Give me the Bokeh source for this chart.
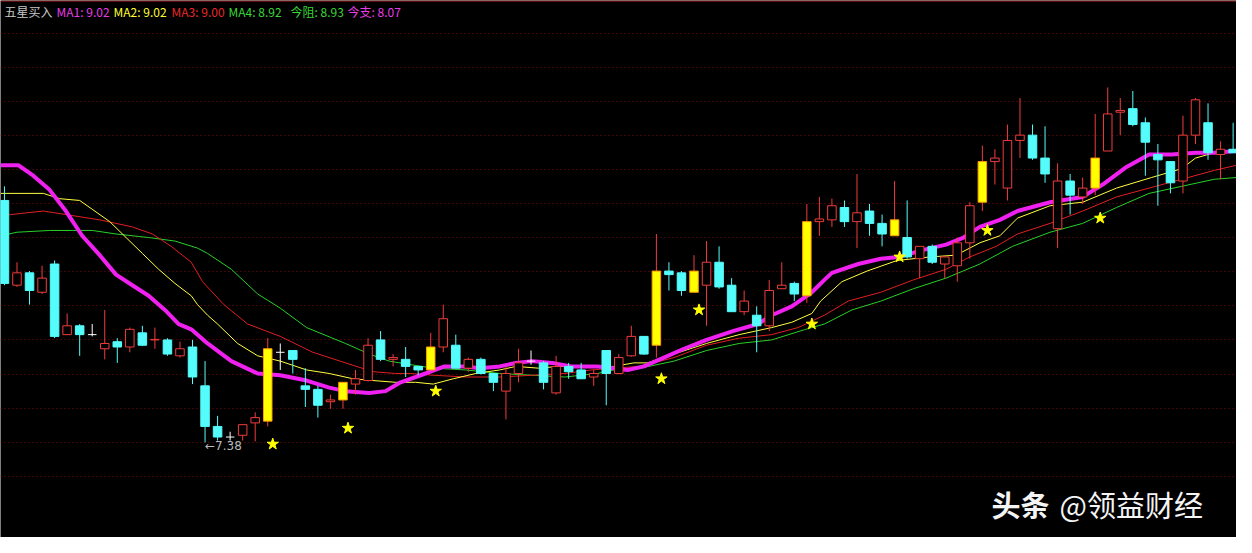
from bokeh.plotting import figure
from bokeh.models import Range1d, FixedTicker, Label, Span
from bokeh.embed import file_html
from bokeh.resources import INLINE

# ---------------- data ----------------
opens = [8.75, 8.27, 8.34, 8.23, 8.39, 7.99, 8.04, 7.99, 7.91, 7.95,
         7.92, 8.00, 7.96, 7.96, 7.87, 7.92, 7.70, 7.47, 7.41, 7.42,
         7.49, 7.50, 7.89, 7.90, 7.70, 7.68, 7.61, 7.62, 7.71, 7.73,
         7.96, 7.85, 7.85, 7.81, 7.79, 7.92, 7.93, 7.80, 7.85, 7.77,
         7.67, 7.77, 7.84, 7.83, 7.66, 7.81, 7.79, 7.75, 7.90, 7.77,
         7.87, 7.98, 7.93, 8.35, 8.34, 8.23, 8.27, 8.40, 8.27, 8.12,
         8.10, 8.04, 8.25, 8.28, 8.21, 8.63, 8.64, 8.71, 8.63, 8.69,
         8.62, 8.55, 8.54, 8.42, 8.49, 8.39, 8.38, 8.51, 8.74, 8.97,
         8.82, 9.09, 9.12, 8.99, 8.59, 8.86, 8.77, 8.82, 9.03, 9.25,
         9.27, 9.19, 9.01, 8.97, 8.86, 9.12, 9.19, 9.01, 9.04]
highs = [8.83, 8.40, 8.35, 8.38, 8.41, 8.11, 8.05, 8.05, 8.13, 7.97,
         8.03, 8.04, 8.03, 7.97, 7.95, 7.96, 7.84, 7.53, 7.44, 7.48,
         7.55, 7.97, 7.94, 7.90, 7.80, 7.70, 7.65, 7.72, 7.79, 7.97,
         8.01, 7.88, 7.92, 7.81, 8.00, 8.16, 7.99, 7.86, 7.86, 7.77,
         7.81, 7.91, 7.90, 7.84, 7.87, 7.83, 7.83, 7.79, 7.90, 7.88,
         8.04, 7.98, 8.56, 8.40, 8.35, 8.44, 8.52, 8.49, 8.31, 8.24,
         8.15, 8.30, 8.40, 8.29, 8.73, 8.77, 8.76, 8.75, 8.90, 8.73,
         8.67, 8.86, 8.75, 8.49, 8.50, 8.43, 8.54, 8.74, 9.06, 9.04,
         9.18, 9.33, 9.18, 9.17, 8.96, 8.90, 8.88, 9.24, 9.39, 9.33,
         9.37, 9.22, 9.07, 8.97, 9.23, 9.33, 9.30, 9.085, 9.19]
lows = [8.27, 8.26, 8.16, 8.22, 7.97, 7.99, 7.87, 7.98, 7.85, 7.83,
        7.89, 7.925, 7.91, 7.87, 7.86, 7.71, 7.38, 7.39, 7.39, 7.39,
        7.385, 7.47, 7.79, 7.77, 7.58, 7.52, 7.57, 7.57, 7.65, 7.725,
        7.84, 7.81, 7.75, 7.76, 7.79, 7.89, 7.80, 7.78, 7.765, 7.67,
        7.51, 7.72, 7.82, 7.68, 7.65, 7.74, 7.74, 7.70, 7.59, 7.765,
        7.865, 7.875, 7.86, 8.24, 8.21, 8.23, 8.04, 8.25, 8.12, 8.10,
        7.89, 8.01, 8.25, 8.18, 8.17, 8.55, 8.60, 8.60, 8.48, 8.55,
        8.49, 8.55, 8.42, 8.31, 8.39, 8.31, 8.29, 8.42, 8.69, 8.84,
        8.75, 8.99, 8.98, 8.85, 8.48, 8.67, 8.73, 8.78, 9.03, 9.12,
        9.17, 8.89, 8.72, 8.79, 8.79, 9.07, 8.98, 8.87, 9.02]
closes = [8.28, 8.34, 8.24, 8.31, 7.98, 8.04, 7.99, 7.99, 7.94, 7.92,
          8.02, 7.93, 7.963, 7.88, 7.91, 7.75, 7.47, 7.41, 7.41, 7.48,
          7.52, 7.91, 7.89, 7.85, 7.68, 7.59, 7.62, 7.72, 7.74, 7.93,
          7.85, 7.86, 7.81, 7.79, 7.92, 8.08, 7.80, 7.85, 7.77, 7.72,
          7.77, 7.83, 7.84, 7.72, 7.81, 7.78, 7.74, 7.77, 7.77, 7.86,
          7.98, 7.88, 8.35, 8.33, 8.24, 8.35, 8.40, 8.26, 8.12, 8.18,
          8.04, 8.24, 8.27, 8.22, 8.63, 8.645, 8.72, 8.63, 8.68, 8.62,
          8.56, 8.64, 8.43, 8.49, 8.40, 8.43, 8.51, 8.72, 8.97, 8.99,
          9.09, 9.12, 8.99, 8.90, 8.86, 8.78, 8.82, 8.99, 9.24, 9.26,
          9.18, 9.08, 8.98, 8.85, 9.12, 9.32, 9.02, 9.04, 9.02]

# "five star buy" signal bars and the star marks below them
signal_idx = [21, 27, 34, 52, 55, 64, 71, 78, 87]
star_price = [7.37, 7.46, 7.67, 7.74, 8.13, 8.05, 8.43, 8.58, 8.65]

# moving-average lines (bar position, price)
ma1_x = [-0.3, 1.1, 2.3, 3.6, 4.9, 6.2, 7.6, 8.9, 10.2, 11.5, 12.8, 13.9, 14.9, 16.2, 18.1, 20.2,
         22.0, 24.1, 25.9, 27.2, 29.1, 30.4, 31.6, 33.2, 35.1, 36.8, 37.9, 39.5, 40.8, 42.1, 43.7,
         45.2, 47.3, 48.6, 49.7, 51.0, 52.6, 54.2, 56.0, 58.1, 60.1, 61.2, 62.8, 64.4, 65.4, 66.0,
         68.1, 69.9, 71.3, 73.3, 75.1, 76.5, 77.8, 79.4, 80.8, 83.4, 86.0, 87.6, 89.5, 91.3, 93.1,
         95.0, 96.5, 98.3]
ma1_y = [8.95, 8.95, 8.89, 8.81, 8.69, 8.55, 8.44, 8.33, 8.27, 8.21, 8.13, 8.05, 8.02, 7.94, 7.84, 7.77,
         7.76, 7.73, 7.69, 7.67, 7.66, 7.67, 7.72, 7.76, 7.81, 7.81, 7.80, 7.81, 7.83, 7.84, 7.83,
         7.81, 7.81, 7.80, 7.79, 7.81, 7.86, 7.91, 7.96, 8.01, 8.05, 8.10, 8.15, 8.23, 8.30, 8.34,
         8.39, 8.42, 8.43, 8.47, 8.50, 8.54, 8.60, 8.64, 8.69, 8.74, 8.77, 8.84, 8.94, 9.01, 9.01,
         9.02, 9.02, 9.03]
ma2_x = [-0.3, 3.1, 4.4, 6.0, 7.0, 8.4, 9.7, 11.0, 12.3, 13.6, 14.9, 15.4, 16.2, 17.0, 18.6, 20.2,
         22.0, 24.1, 25.9, 27.8, 29.4, 31.2, 32.8, 34.2, 35.8, 37.6, 39.5, 40.8, 42.6, 44.2, 46.3,
         48.6, 50.2, 51.3, 53.4, 56.0, 58.6, 61.2, 62.8, 64.4, 65.1, 66.8, 68.8, 71.2, 73.8, 75.9,
         77.8, 79.4, 80.8, 83.4, 86.0, 88.7, 91.5, 93.9, 95.0, 96.5, 98.3]
ma2_y = [8.79, 8.79, 8.76, 8.75, 8.70, 8.63, 8.54, 8.45, 8.36, 8.28, 8.21, 8.16, 8.10, 8.05, 7.94, 7.87,
         7.84, 7.79, 7.77, 7.74, 7.73, 7.72, 7.72, 7.71, 7.74, 7.77, 7.79, 7.81, 7.80, 7.81, 7.81,
         7.81, 7.83, 7.83, 7.88, 7.94, 7.99, 8.03, 8.06, 8.11, 8.18, 8.29, 8.35, 8.41, 8.43, 8.44,
         8.51, 8.55, 8.65, 8.72, 8.74, 8.82, 8.88, 8.93, 8.99, 9.02, 9.03]
ma3_x = [-0.3, 0.5, 3.1, 4.9, 7.6, 10.2, 11.8, 13.3, 14.9, 15.8, 17.5, 19.4, 22.0, 24.6, 27.2, 29.4,
         31.2, 32.4, 34.2, 36.8, 39.5, 42.1, 44.7, 46.8, 48.6, 50.7, 53.4, 56.0, 58.6, 61.2, 63.3,
         65.4, 67.3, 69.9, 72.5, 75.1, 77.0, 79.1, 80.8, 83.4, 86.0, 88.7, 91.3, 93.9, 96.5, 98.3]
ma3_y = [8.66, 8.67, 8.69, 8.67, 8.64, 8.60, 8.56, 8.49, 8.40, 8.29, 8.16, 8.05, 7.98, 7.89, 7.83, 7.78,
         7.77, 7.77, 7.76, 7.75, 7.75, 7.76, 7.77, 7.79, 7.80, 7.81, 7.86, 7.93, 7.97, 7.99, 8.03,
         8.10, 8.18, 8.23, 8.30, 8.36, 8.43, 8.49, 8.56, 8.62, 8.69, 8.77, 8.82, 8.87, 8.92, 8.95]
ma4_x = [-0.3, 1.0, 3.6, 7.0, 8.9, 11.5, 13.6, 15.4, 16.2, 18.1, 20.2, 22.0, 24.1, 27.2, 29.1, 30.7,
         32.4, 34.2, 36.8, 39.5, 42.1, 44.7, 47.3, 48.6, 50.7, 53.4, 56.0, 58.6, 61.2, 63.9, 65.4,
         67.6, 69.9, 72.5, 75.1, 77.8, 80.4, 83.4, 86.0, 88.7, 91.3, 93.9, 96.5, 98.3]
ma4_y = [8.55, 8.57, 8.58, 8.58, 8.56, 8.54, 8.52, 8.48, 8.45, 8.36, 8.22, 8.14, 8.03, 7.94, 7.88, 7.84,
         7.82, 7.80, 7.79, 7.77, 7.76, 7.75, 7.77, 7.79, 7.80, 7.84, 7.90, 7.94, 7.96, 8.02, 8.05,
         8.13, 8.18, 8.25, 8.31, 8.39, 8.49, 8.57, 8.62, 8.71, 8.79, 8.83, 8.87, 8.88]

# header readings
title_text = "五星买入"
header_items = [("MA1", 9.02), ("MA2", 9.02), ("MA3", 9.00), ("MA4", 8.92), ("今阻", 8.93), ("今支", 8.07)]

# dotted horizontal price levels
grid_levels = [7.188, 7.381, 7.574, 7.767, 7.960, 8.153, 8.346, 8.539, 8.732, 8.925,
               9.119, 9.312, 9.505, 9.698]

for arr in (highs, lows, closes):
    assert len(arr) == len(opens)
for a, b in ((ma1_x, ma1_y), (ma2_x, ma2_y), (ma3_x, ma3_y), (ma4_x, ma4_y)):
    assert len(a) == len(b)

# ---------------- styles ----------------
CYAN = "#54fcfc"
RED = "#f03c3c"
YEL = "#ffff00"
YEL_EDGE = "#ff9c00"
W, H = 1236, 537
BW = 0.68

p = figure(width=W, height=H, x_range=Range1d(-0.315, 98.27), y_range=Range1d(6.841, 9.8825),
           output_backend="svg", toolbar_location=None, min_border=0,
           background_fill_color="black", border_fill_color="black")
p.outline_line_color = None
p.xaxis.visible = False
p.yaxis.visible = False
p.xgrid.visible = False
p.ygrid.ticker = FixedTicker(ticks=grid_levels)
p.ygrid.grid_line_color = "#7c0c0c"
p.ygrid.grid_line_dash = "1 3"
p.ygrid.grid_line_width = 1

p.add_layout(Span(location=9.879, dimension="width", line_color="#a01010", line_width=1))

# moving averages (under the candles)
p.line(ma4_x, ma4_y, line_color="#28d028", line_width=1)
p.line(ma3_x, ma3_y, line_color="#e02020", line_width=1)
p.line(ma2_x, ma2_y, line_color="#ffff40", line_width=1)
p.line(ma1_x, ma1_y, line_color="#f020f0", line_width=4, line_join="round")

# candles
wx, wy0, wy1, wc = [], [], [], []
bx, btop, bbot, bfill, bline = [], [], [], [], []
dx, dy = [], []
for i, (o, h, l, c) in enumerate(zip(opens, highs, lows, closes)):
    if i in signal_idx:
        kind = "y"
    elif c > o:
        kind = "u"
    elif c < o:
        kind = "d"
    else:
        kind = "w"
    wx.append(i); wy0.append(l); wy1.append(h)
    wc.append({"y": RED, "u": RED, "d": CYAN, "w": "#ffffff"}[kind])
    if kind == "w":
        dx.append(i); dy.append(o)
    else:
        bx.append(i); btop.append(max(o, c)); bbot.append(min(o, c))
        bfill.append({"y": YEL, "u": "#000000", "d": CYAN}[kind])
        bline.append({"y": YEL_EDGE, "u": RED, "d": CYAN}[kind])

p.segment(x0=wx, y0=wy0, x1=wx, y1=wy1, line_color=wc, line_width=1)
p.vbar(x=bx, width=BW, top=btop, bottom=bbot, fill_color=bfill, line_color=bline, line_width=1)
p.segment(x0=[x - BW / 2 for x in dx], y0=dy, x1=[x + BW / 2 for x in dx], y1=dy,
          line_color="#ffffff", line_width=1)

# stars
p.scatter([i + 0.4 for i in signal_idx], star_price, marker="star", size=12,
          fill_color="#ffff00", line_color="#ffff00")

# lowest price marker
imin = min(range(len(lows)), key=lambda k: lows[k])
p.add_layout(Label(x=imin, y=lows[imin], y_offset=-4, text="←%.2f" % lows[imin],
                   text_color="#b8b8b8", text_font="DejaVu Sans", text_font_size="12px",
                   text_align="left", text_baseline="middle"))

# header
hy = H - 11
p.add_layout(Label(x=4, y=hy, x_units="screen", y_units="screen", text=title_text,
                   text_color="#c8c8c8", text_font="Noto Sans CJK SC", text_font_size="12px",
                   text_baseline="middle"))
hx = [56, 113, 171, 228, 290, 347]
hcol = ["#e83ce8", "#ffff30", "#e82828", "#38d838", "#38d838", "#e83ce8"]
for (name, val), x, col in zip(header_items, hx, hcol):
    p.add_layout(Label(x=x, y=hy, x_units="screen", y_units="screen", text="%s: %.2f" % (name, val),
                       text_color=col, text_font="Noto Sans CJK SC", text_font_size="12px",
                       text_baseline="middle"))

# watermark
p.add_layout(Label(x=991, y=34, x_units="screen", y_units="screen", text="头条",
                   text_color="#f4f4f4", text_font="Noto Sans CJK SC", text_font_size="29px",
                   text_font_style="bold", text_baseline="middle"))
p.add_layout(Label(x=1059, y=34, x_units="screen", y_units="screen", text="@领益财经",
                   text_color="#f4f4f4", text_font="Noto Sans CJK SC", text_font_size="29px",
                   text_baseline="middle"))

open("out.html", "w").write(file_html(p, INLINE))
